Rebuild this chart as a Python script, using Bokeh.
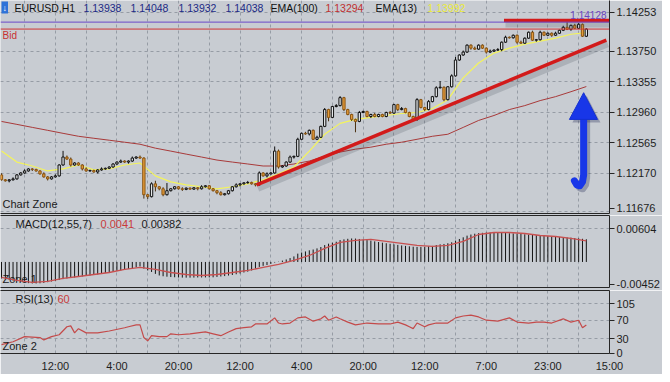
from bokeh.plotting import figure
from bokeh.models import Range1d, FixedTicker, LinearAxis, Label, Span
from bokeh.layouts import column
from bokeh.embed import file_html
from bokeh.resources import INLINE

# ---------------- data ----------------
symbol = "EURUSD,H1"
header_ohlc = ["1.13938", "1.14048", "1.13932", "1.14038"]

open_first = 1.12150
closes = [
    1.12086, 1.12073, 1.12086, 1.12098, 1.12150, 1.12175, 1.12201, 1.12227, 1.12220, 1.12201,
    1.12163, 1.12124, 1.12098, 1.12124, 1.12137, 1.12278, 1.12381, 1.12355, 1.12278, 1.12304,
    1.12278, 1.12227, 1.12201, 1.12207, 1.12188, 1.12214, 1.12227, 1.12235, 1.12252, 1.12291,
    1.12316, 1.12329, 1.12316, 1.12329, 1.12368, 1.12381, 1.12368, 1.11893, 1.11868, 1.12034,
    1.11996, 1.11970, 1.11893, 1.11945, 1.11970, 1.11996, 1.11970, 1.11962, 1.11978, 1.11966,
    1.11983, 1.11970, 1.11996, 1.12009, 1.11970, 1.11945, 1.11919, 1.11893, 1.11906, 1.11945,
    1.11996, 1.12021, 1.12034, 1.12047, 1.12052, 1.12034, 1.12021, 1.12175, 1.12137, 1.12163,
    1.12175, 1.12458, 1.12252, 1.12265, 1.12316, 1.12381, 1.12390, 1.12611, 1.12688, 1.12680,
    1.12727, 1.12611, 1.12637, 1.12778, 1.12996, 1.12894, 1.13035, 1.13047, 1.13150, 1.12996,
    1.12932, 1.12868, 1.12842, 1.12958, 1.12971, 1.12906, 1.12932, 1.12906, 1.12932, 1.12906,
    1.12958, 1.12950, 1.13060, 1.12996, 1.13009, 1.12958, 1.12906, 1.12868, 1.13124, 1.13022,
    1.12996, 1.13099, 1.13163, 1.13278, 1.13285, 1.13124, 1.13291, 1.13432, 1.13637, 1.13702,
    1.13740, 1.13830, 1.13791, 1.13778, 1.13830, 1.13791, 1.13740, 1.13753, 1.13766, 1.13772,
    1.13868, 1.13932, 1.13925, 1.13958, 1.13868, 1.13855, 1.13920, 1.13997, 1.13894, 1.13900,
    1.13997, 1.13958, 1.13984, 1.13958, 1.13984, 1.14022, 1.14061, 1.14035, 1.14086, 1.14048,
    1.14099, 1.13945, 1.14038,
]
# wick lengths beyond the body, in pips (0.0001)
up_wick = [
    2, 1, 1, 2, 1, 1, 2, 1, 1, 1,  1, 2, 1, 1, 2, 1, 8, 2, 2, 1,
    1, 1, 2, 1, 1, 1, 2, 1, 1, 1,  1, 2, 1, 1, 2, 1, 2, 1, 1, 2,
    4, 1, 2, 10, 1, 1, 1, 2, 1, 1,  1, 1, 2, 1, 1, 1, 1, 2, 1, 1,
    1, 2, 1, 1, 2, 1, 1, 2, 1, 2,  1, 6, 2, 1, 1, 2, 1, 2, 1, 2,
    1, 1, 2, 1, 2, 1, 1, 2, 2, 1,  1, 1, 1, 2, 1, 1, 1, 2, 1, 1,
    1, 2, 1, 1, 2, 1, 1, 1, 2, 1,  1, 2, 1, 2, 8, 1, 1, 2, 4, 1,
    2, 1, 1, 2, 1, 1, 1, 2, 1, 2,  1, 2, 1, 1, 1, 2, 1, 1, 2, 1,
    2, 1, 1, 1, 2, 1, 2, 7, 1, 2,  2, 1, 1,
]
dn_wick = [
    1, 1, 2, 1, 1, 1, 1, 1, 2, 1,  1, 1, 2, 1, 1, 1, 1, 1, 2, 1,
    1, 2, 1, 1, 1, 2, 1, 1, 1, 1,  1, 1, 1, 2, 1, 1, 1, 5, 3, 1,
    6, 2, 2, 1, 1, 1, 1, 2, 1, 1,  1, 2, 1, 1, 1, 1, 2, 1, 1, 1,
    1, 1, 2, 1, 1, 1, 2, 1, 1, 2,  1, 1, 2, 1, 1, 1, 2, 1, 1, 1,
    2, 1, 1, 1, 1, 5, 1, 1, 1, 2,  1, 2, 14, 1, 1, 1, 2, 1, 1, 1,
    1, 1, 1, 2, 1, 1, 1, 1, 2, 1,  2, 1, 1, 1, 1, 2, 1, 1, 1, 1,
    1, 1, 2, 1, 1, 1, 2, 1, 1, 1,  2, 1, 1, 1, 2, 1, 1, 1, 1, 2,
    1, 1, 1, 2, 1, 1, 1, 1, 2, 1,  1, 1, 1,
]

ema_idx = list(range(0, 153, 4))
ema13 = [1.12458, 1.12316, 1.12265, 1.12201, 1.12227, 1.12278, 1.12214, 1.12227, 1.12278, 1.12304,
         1.12137, 1.12060, 1.12021, 1.11996, 1.11970, 1.11996, 1.12034, 1.12086, 1.12163, 1.12252,
         1.12458, 1.12676, 1.12817, 1.12868, 1.12894, 1.12919, 1.12945, 1.12958, 1.13009, 1.13124,
         1.13407, 1.13599, 1.13727, 1.13791, 1.13843, 1.13881, 1.13920, 1.13971, 1.13992]
ema100 = [1.12842, 1.12804, 1.12765, 1.12727, 1.12688, 1.12650, 1.12624, 1.12599, 1.12573, 1.12547,
          1.12496, 1.12458, 1.12419, 1.12381, 1.12342, 1.12316, 1.12291, 1.12265, 1.12265, 1.12291,
          1.12329, 1.12393, 1.12445, 1.12483, 1.12509, 1.12547, 1.12573, 1.12611, 1.12650, 1.12676,
          1.12765, 1.12855, 1.12919, 1.12996, 1.13047, 1.13112, 1.13163, 1.13227, 1.13294]

macd_hist = [
    -0.00298, -0.00310, -0.00322, -0.00335, -0.00348, -0.00360, -0.00372, -0.00382, -0.00388, -0.00388,
    -0.00385, -0.00378, -0.00365, -0.00352, -0.00340, -0.00325, -0.00310, -0.00298, -0.00290, -0.00280,
    -0.00270, -0.00262, -0.00252, -0.00245, -0.00235, -0.00226, -0.00212, -0.00200, -0.00188, -0.00175,
    -0.00163, -0.00153, -0.00140, -0.00125, -0.00110, -0.00095, -0.00081, -0.00120, -0.00153, -0.00180,
    -0.00215, -0.00244, -0.00258, -0.00266, -0.00272, -0.00276, -0.00280, -0.00282, -0.00283, -0.00283,
    -0.00282, -0.00280, -0.00280, -0.00279, -0.00278, -0.00277, -0.00270, -0.00262, -0.00255, -0.00245,
    -0.00235, -0.00222, -0.00208, -0.00190, -0.00175, -0.00153, -0.00120, -0.00090, -0.00070, -0.00055,
    -0.00035, -0.00010, 0.00005, 0.00025, 0.00045, 0.00070, 0.00100, 0.00150, 0.00170, 0.00190,
    0.00210, 0.00225, 0.00245, 0.00270, 0.00305, 0.00330, 0.00348, 0.00365, 0.00395, 0.00408,
    0.00418, 0.00424, 0.00422, 0.00415, 0.00405, 0.00395, 0.00385, 0.00372, 0.00360, 0.00348,
    0.00338, 0.00328, 0.00318, 0.00308, 0.00298, 0.00290, 0.00282, 0.00275, 0.00272, 0.00272,
    0.00275, 0.00282, 0.00290, 0.00305, 0.00318, 0.00325, 0.00338, 0.00355, 0.00385, 0.00415,
    0.00445, 0.00475, 0.00495, 0.00510, 0.00520, 0.00526, 0.00530, 0.00532, 0.00530, 0.00528,
    0.00525, 0.00522, 0.00518, 0.00515, 0.00510, 0.00505, 0.00500, 0.00495, 0.00490, 0.00485,
    0.00478, 0.00472, 0.00466, 0.00460, 0.00455, 0.00450, 0.00446, 0.00442, 0.00438, 0.00432,
    0.00425, 0.00418, 0.00410,
]
macd_signal = [-0.00280, -0.00334, -0.00370, -0.00352, -0.00298, -0.00262, -0.00226, -0.00190, -0.00135, -0.00099,
               -0.00135, -0.00190, -0.00226, -0.00244, -0.00226, -0.00190, -0.00153, -0.00099, -0.00045, 0.00027,
               0.00117, 0.00244, 0.00352, 0.00388, 0.00406, 0.00370, 0.00334, 0.00298, 0.00280, 0.00298,
               0.00370, 0.00496, 0.00532, 0.00532, 0.00514, 0.00478, 0.00460, 0.00424, 0.00382]

rsi_idx = [0, 3, 6, 10, 11, 13, 15, 17, 18, 19, 20, 22, 25, 28, 32, 33, 35, 36, 37, 38,
           39, 41, 43, 44, 46, 49, 53, 55, 57, 59, 61, 63, 65, 66, 69, 71, 72, 73, 75, 77,
           79, 81, 83, 84, 85, 87, 88, 90, 92, 95, 98, 101, 103, 105, 106, 107, 108, 110, 111, 113,
           116, 118, 120, 122, 124, 126, 129, 132, 134, 137, 139, 141, 143, 146, 148, 150, 151, 152]
rsi_val = [18, 24, 35, 33, 28, 35, 39, 56, 58, 43, 52, 43, 43, 47, 54, 56, 60, 60, 33, 26,
           37, 35, 35, 41, 39, 41, 45, 41, 37, 45, 52, 54, 56, 62, 62, 75, 64, 62, 64, 75,
           77, 68, 73, 79, 70, 77, 73, 66, 60, 64, 62, 62, 66, 60, 56, 52, 64, 56, 60, 64,
           64, 75, 79, 81, 77, 70, 68, 75, 66, 64, 66, 66, 64, 73, 66, 70, 54, 60]

time_tick_idx = [14, 30, 46, 62, 78, 94, 110, 126, 142, 158]
time_tick_lbl = ["12:00", "4:00", "20:00", "12:00", "4:00", "20:00", "12:00", "7:00", "23:00", "15:00"]
grid_idx = list(range(6, 159, 8))

price_ticks = [1.11676, 1.12170, 1.12565, 1.12960, 1.13355, 1.13750, 1.14253]
price_tick_lbl = ["1.11676", "1.12170", "1.12565", "1.12960", "1.13355", "1.13750", "1.14253"]
macd_ticks = [-0.00452, 0.00604]
macd_tick_lbl = ["-0.00452", "0.00604"]
rsi_ticks = [0, 30, 70, 105]

bid_price = 1.14038
bid_label = "1.14038"
max_high = 1.14128
max_high_label = "1.14128"
ema100_last = "1.13294"
ema13_last = "1.13992"
macd_last = "0.0041"
signal_last = "0.00382"
rsi_last = "60"

# hand-drawn objects (in bar index / price)
resist_idx = [130.6, 158.0]
resist_price = [1.14150, 1.14150]
trend_idx = [66.3, 157.2]
trend_price = [1.12021, 1.13894]
arrow_head_idx = [147.6, 154.9, 151.3]
arrow_head_price = [1.12868, 1.12868, 1.13214]
arrow_shaft_idx = [151.3, 151.3, 151.0, 150.3, 149.5, 148.9]
arrow_shaft_price = [1.12880, 1.12150, 1.12060, 1.12009, 1.12021, 1.12073]

# ---------------- styling ----------------
FONT = "Liberation Sans"
BG = "#c8ccd2"
DARK = "#262626"
GRID = "#969ca5"
AXTXT = "#1e1e1e"
W = 662
FRAME_W = 613

n = len(closes)
idx = list(range(n))
opens = [open_first] + closes[:-1]
highs = [max(o, c) + u * 0.0001 for o, c, u in zip(opens, closes, up_wick)]
lows = [min(o, c) - d * 0.0001 for o, c, d in zip(opens, closes, dn_wick)]
bull = [c >= o for o, c in zip(opens, closes)]

XR = Range1d(-0.26, 158.02)


def mkfig(h, yr, mb):
    p = figure(width=W, height=h, x_range=XR, y_range=yr, output_backend="svg",
               toolbar_location=None, x_axis_location="below", y_axis_location="right",
               min_border_left=0, min_border_right=W - FRAME_W, min_border_top=0,
               min_border_bottom=mb, background_fill_color=BG, border_fill_color=BG,
               outline_line_color=None)
    for g in (p.xgrid, p.ygrid):
        g.grid_line_color = GRID
        g.grid_line_dash = "3 3"
        g.grid_line_width = 1
    p.xgrid.ticker = FixedTicker(ticks=grid_idx)
    ya = p.yaxis[0]
    ya.axis_line_color = DARK
    ya.major_tick_line_color = DARK
    ya.minor_tick_line_color = None
    ya.major_tick_out = 5
    ya.major_tick_in = 0
    ya.major_label_standoff = 2
    ya.major_label_text_font = FONT
    ya.major_label_text_font_size = "11px"
    ya.major_label_text_color = AXTXT
    xa = p.xaxis[0]
    xa.axis_line_color = DARK
    xa.minor_tick_line_color = None
    xa.major_tick_out = 0
    xa.major_tick_in = 0
    return p


def border_axis(p, where):
    ax = LinearAxis(ticker=FixedTicker(ticks=[]), major_tick_out=0, major_tick_in=0,
                    minor_tick_out=0, minor_tick_in=0, major_label_standoff=0,
                    axis_line_color=DARK)
    p.add_layout(ax, where)


def tlabel(p, text, px, py, color, size="11px", from_bottom=False, level="annotation"):
    yr = p.y_range
    p.add_layout(Label(x=XR.start, y=(yr.start if from_bottom else yr.end),
                       x_offset=px, y_offset=(py if from_bottom else -py), text=text,
                       text_color=color, text_font=FONT, text_font_size=size,
                       text_baseline="middle", text_align="left", level=level))


def axis_ticks(p, vals, lbls, frame_h, lift_first_px):
    # the lowest tick sits on the panel's bottom edge: lift its mark/label a few px so it stays visible
    per_px = (p.y_range.end - p.y_range.start) / frame_h
    pos = [v + (lift_first_px * per_px if i == 0 else 0) for i, v in enumerate(vals)]
    p.yaxis.ticker = FixedTicker(ticks=pos)
    p.yaxis.major_label_overrides = dict(zip(pos, lbls))
    p.ygrid.ticker = FixedTicker(ticks=vals)


# ---------------- main price panel ----------------
MAIN_FH = 213
YR1 = Range1d(1.11650, 1.14408)
p1 = mkfig(MAIN_FH + 2, YR1, 2)
p1.xaxis.ticker = FixedTicker(ticks=[])
p1.xaxis.major_label_standoff = 0
axis_ticks(p1, price_ticks, price_tick_lbl, MAIN_FH, 3)

dpx_y = (YR1.end - YR1.start) / MAIN_FH
dpx_x = (XR.end - XR.start) / FRAME_W

p1.add_layout(Span(location=max_high, dimension="width", line_color="#6a48c8", line_width=1))
p1.add_layout(Span(location=bid_price, dimension="width", line_color="#d03434", line_width=1))

p1.line(ema_idx, ema100, line_color="#a83a3a", line_width=1)
p1.line(ema_idx, ema13, line_color="#f4f45c", line_width=1.2)

# candles
wick_col = ["#111111" if b else "#4a3010" for b in bull]
p1.segment(x0=idx, y0=lows, x1=idx, y1=highs, line_color=wick_col, line_width=1)
p1.vbar(x=idx, width=0.6, top=[max(o, c) for o, c in zip(opens, closes)],
        bottom=[min(o, c) for o, c in zip(opens, closes)],
        fill_color=["#e4e7ea" if b else "#e59c3c" for b in bull],
        line_color=["#111111" if b else "#8a5512" for b in bull], line_width=1)

# trend line + resistance line with soft shadows
p1.line([x + 1.5 * dpx_x for x in trend_idx], [y - 4 * dpx_y for y in trend_price],
        line_color="#3c4450", line_alpha=0.2, line_width=6)
p1.line(trend_idx, trend_price, line_color="#d21a1a", line_width=3.5)
p1.line([x + 1.5 * dpx_x for x in resist_idx], [y - 4 * dpx_y for y in resist_price],
        line_color="#3c4450", line_alpha=0.2, line_width=6)
p1.line(resist_idx, resist_price, line_color="#d21a1a", line_width=3.5)

# blue arrow with shadow
p1.patch([x + 3 * dpx_x for x in arrow_head_idx], [y - 3 * dpx_y for y in arrow_head_price],
         fill_color="#1a2050", fill_alpha=0.3, line_color=None)
p1.line([x + 3 * dpx_x for x in arrow_shaft_idx], [y - 3 * dpx_y for y in arrow_shaft_price],
        line_color="#1a2050", line_alpha=0.3, line_width=7, line_cap="round", line_join="round")
p1.line(arrow_shaft_idx, arrow_shaft_price, line_color="#1836e8", line_width=7,
        line_cap="round", line_join="round")
p1.patch(arrow_head_idx, arrow_head_price, fill_color="#1836e8", line_color="#1430d0")

# header texts
HDR = "10.5px"
p1.add_layout(Label(x=XR.start, y=YR1.end, x_offset=1, y_offset=-1, text="↓",
                    text_color="white", text_font=FONT, text_font_size="9px",
                    text_font_style="bold", text_baseline="top", text_align="left",
                    background_fill_color="#2e72d8", padding=1))
tlabel(p1, symbol, 14, 7, "#101010", HDR)
for xo, t in zip([83, 130, 178, 225], header_ohlc):
    tlabel(p1, t, xo, 7, "#1c2a86", HDR)
tlabel(p1, "EMA(100)", 270, 7, "#101010", HDR)
tlabel(p1, ema100_last, 325, 7, "#c03030", HDR)
tlabel(p1, "EMA(13)", 375, 7, "#101010", HDR)
tlabel(p1, ema13_last, 427, 7, "#eaea3a", HDR)
tlabel(p1, "Bid", 2, 35, "#c83030", "10px")
tlabel(p1, "Chart Zone", 2, 10, "#202020", "11px", from_bottom=True)

p1.add_layout(Label(x=XR.end, y=max_high, x_offset=-3, y_offset=3, text=max_high_label,
                    text_color="#6a44c0", text_font=FONT, text_font_size="10px",
                    text_baseline="bottom", text_align="right"))
p1.add_layout(Label(x=XR.end, y=bid_price, x_offset=5, y_offset=-2, text=bid_label,
                    text_color="#c82020", text_font=FONT, text_font_size="11px",
                    text_baseline="top", text_align="left",
                    background_fill_color="white", border_line_color="#c82020", padding=2))

# ---------------- MACD panel ----------------
MACD_FH = 72
YR2 = Range1d(-0.004609, 0.008387)
p2 = mkfig(MACD_FH + 3, YR2, 3)
p2.xaxis.ticker = FixedTicker(ticks=[])
p2.xaxis.major_label_standoff = 0
axis_ticks(p2, macd_ticks, macd_tick_lbl, MACD_FH, 3)
border_axis(p2, "above")
tlabel(p2, "Zone 1", 2, 9, "#202020", "11px", from_bottom=True, level="underlay")
p2.segment(x0=idx, y0=[0] * n, x1=idx, y1=macd_hist, line_color="#141414", line_width=1)
p2.line(ema_idx, macd_signal, line_color="#c85050", line_width=1.3)
tlabel(p2, "MACD(12,55,7)", 15, 8, "#1a1a1a", "11px")
tlabel(p2, macd_last, 100, 8, "#c83a3a", "11px")
tlabel(p2, signal_last, 141, 8, "#1a1a1a", "11px")

# ---------------- RSI panel ----------------
YR3 = Range1d(-1.0, 133.4)
p3 = mkfig(84, YR3, 20)
p3.xaxis.ticker = FixedTicker(ticks=time_tick_idx)
p3.xaxis.major_label_overrides = dict(zip(time_tick_idx, time_tick_lbl))
p3.xaxis.major_label_standoff = 6
p3.xaxis.major_label_text_font = FONT
p3.xaxis.major_label_text_font_size = "11px"
p3.xaxis.major_label_text_color = AXTXT
p3.yaxis.ticker = FixedTicker(ticks=rsi_ticks)
p3.ygrid.ticker = FixedTicker(ticks=rsi_ticks)
border_axis(p3, "above")
p3.line(rsi_idx, rsi_val, line_color="#c44a4a", line_width=1.2)
tlabel(p3, "RSI(13)", 15, 8, "#1a1a1a", "11px")
tlabel(p3, rsi_last, 57, 8, "#c83a3a", "11px")
tlabel(p3, "Zone 2", 2, 8, "#202020", "11px", from_bottom=True)

layout = column(p1, p2, p3)
open("out.html", "w").write(file_html(layout, INLINE))
